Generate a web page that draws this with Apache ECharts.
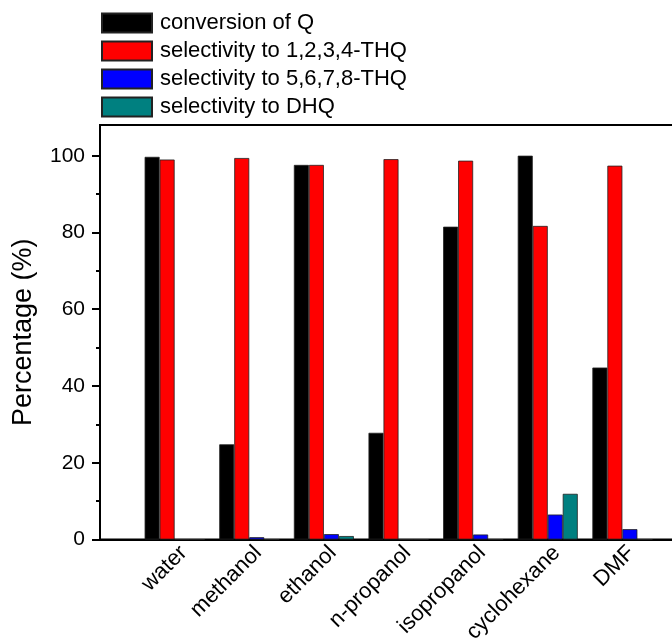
<!DOCTYPE html>
<html>
<head>
<meta charset="UTF-8">
<title>Solvent effect</title>
<script src="https://cdn.jsdelivr.net/npm/echarts@6/dist/echarts.min.js"></script>
<style>
    html, body { margin: 0; padding: 0; background: #fff; }
    #chart { width: 672px; height: 643px; }
</style>
</head>
<body>
<div id="chart"></div>
<script>
    var categories = ['water', 'methanol', 'ethanol', 'n-propanol', 'isopropanol', 'cyclohexane', 'DMF'];
    var conversionQ = [99.7, 24.8, 97.6, 27.8, 81.5, 100, 44.8];
    var sel1234 = [99.0, 99.4, 97.6, 99.1, 98.7, 81.7, 97.4];
    var sel5678 = [0, 0.6, 1.4, 0, 1.3, 6.5, 2.7];
    var selDHQ = [0, 0, 0.9, 0, 0, 11.9, 0];
    var yTicks = [0, 20, 40, 60, 80, 100];
    var yMinorTicks = [10, 30, 50, 70, 90];

    var font = 'Liberation Sans, Arial, sans-serif';
    var chart = echarts.init(document.getElementById('chart'));

    function pairs(vals) {
        return vals.map(function (v, i) { return [i + 1, v]; });
    }

    function barSeries(name, vals, color) {
        return {
            name: name,
            type: 'bar',
            data: pairs(vals),
            barWidth: 15,
            barGap: '0%',
            itemStyle: { color: color, borderColor: '#222', borderWidth: 0.8 }
        };
    }

    // label axis is nudged a little to the right, like the original's rotated labels
    var labelShift = 0.12;

    var option = {
        animation: false,
        textStyle: { fontFamily: font },
        legend: {
            orient: 'vertical',
            left: 96,
            top: 7,
            itemWidth: 50,
            itemHeight: 19,
            itemGap: 6,
            icon: 'rect',
            textStyle: { fontSize: 22, color: '#000', fontFamily: font, padding: [0, 0, 0, 3] },
            data: ['conversion of Q', 'selectivity to 1,2,3,4-THQ', 'selectivity to 5,6,7,8-THQ', 'selectivity to DHQ']
        },
        grid: {
            left: 100,
            top: 125,
            width: 597,
            height: 414.5,
            outerBoundsMode: 'none',
            show: true,
            borderColor: '#000',
            borderWidth: 2
        },
        xAxis: [{
            type: 'value',
            min: 0,
            max: 8,
            interval: 1,
            splitLine: { show: false },
            axisLine: { show: true, onZero: false, lineStyle: { color: '#000', width: 2 } },
            axisTick: { show: false },
            axisLabel: { show: false }
        }, {
            type: 'value',
            position: 'bottom',
            min: -labelShift,
            max: 8 - labelShift,
            splitLine: { show: false },
            axisLine: { show: false, onZero: false },
            axisTick: { show: false },
            axisLabel: {
                rotate: 45,
                margin: 10,
                fontSize: 22,
                color: '#000',
                fontFamily: font,
                customValues: categories.map(function (c, i) { return i + 1; }),
                formatter: function (v) { return categories[v - 1] || ''; }
            }
        }],
        yAxis: [{
            type: 'value',
            min: 0,
            max: 108,
            name: 'Percentage (%)',
            nameLocation: 'middle',
            nameGap: 63,
            nameTextStyle: { fontSize: 27, color: '#000', fontFamily: font },
            splitLine: { show: false },
            axisLine: { show: true, onZero: false, lineStyle: { color: '#000', width: 2 } },
            axisTick: { show: true, length: 8, lineStyle: { color: '#000', width: 2 }, customValues: yTicks },
            axisLabel: { fontSize: 21, color: '#000', margin: 15, fontFamily: font, customValues: yTicks }
        }, {
            type: 'value',
            min: 0,
            max: 108,
            position: 'left',
            splitLine: { show: false },
            axisLine: { show: false, onZero: false },
            axisTick: { show: true, length: 4, lineStyle: { color: '#000', width: 2 }, customValues: yMinorTicks },
            axisLabel: { show: false }
        }],
        series: [
            barSeries('conversion of Q', conversionQ, '#000000'),
            barSeries('selectivity to 1,2,3,4-THQ', sel1234, '#ff0000'),
            barSeries('selectivity to 5,6,7,8-THQ', sel5678, '#0000ff'),
            barSeries('selectivity to DHQ', selDHQ, '#008080')
        ]
    };

    chart.setOption(option);
</script>
</body>
</html>
